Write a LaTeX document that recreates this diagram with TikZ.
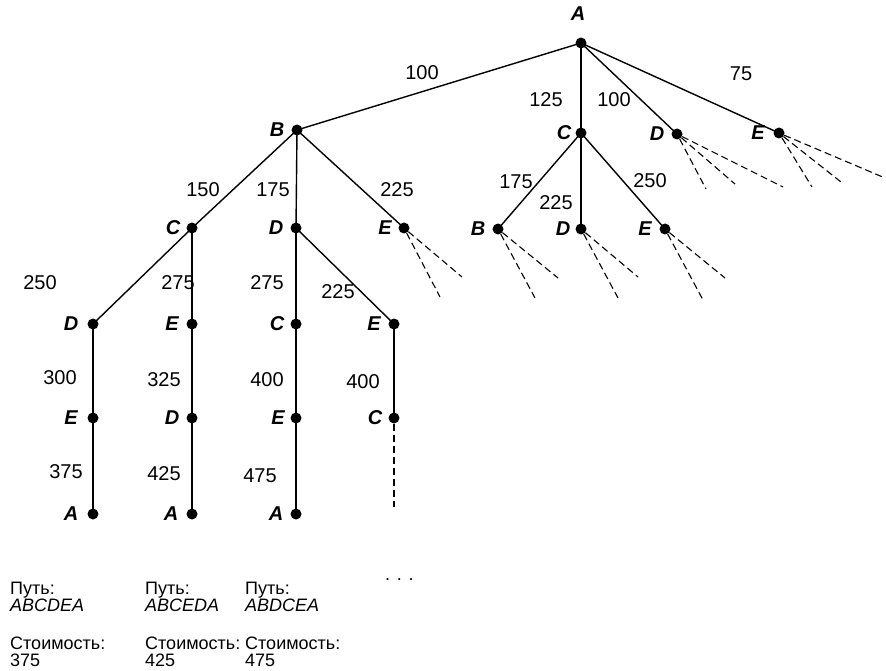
\documentclass[tikz,border=0pt]{standalone}
\usepackage{fontspec}
\setmainfont{Liberation Sans}
\begin{document}
\begin{tikzpicture}[x=1pt,y=-1pt,
  dot/.style={circle,fill=black,inner sep=0pt,minimum size=11pt},
  lab/.style={font=\fontsize{20}{22}\selectfont\bfseries\itshape,inner sep=0pt},
  num/.style={font=\fontsize{20}{22}\selectfont,inner sep=0pt},
  txt/.style={font=\fontsize{18}{16.5}\selectfont,inner sep=0pt,anchor=west,align=left},
  edge/.style={line width=1.4pt},
  vedge/.style={line width=2pt},
  dsh/.style={line width=1.1pt,dash pattern=on 7pt off 4pt}]
\useasboundingbox (0,0) rectangle (886,671);
% level 0
\node[dot] (A) at (581,43) {};
% level 1
\node[dot] (B) at (297,130) {};
\node[dot] (C) at (581,133) {};
\node[dot] (D) at (677,134) {};
\node[dot] (E) at (779,133) {};
% level 2 under B
\node[dot] (BC) at (192,228) {};
\node[dot] (BD) at (296,228) {};
\node[dot] (BE) at (404,228) {};
% level 2 under C
\node[dot] (CB) at (498,229) {};
\node[dot] (CD) at (581,229) {};
\node[dot] (CE) at (665,229) {};
% level 3
\node[dot] (BCD) at (93,324) {};
\node[dot] (BCE) at (192,324) {};
\node[dot] (BDC) at (296,324) {};
\node[dot] (BDE) at (394,324) {};
% level 4
\node[dot] (BCDE) at (93,418) {};
\node[dot] (BCED) at (192,418) {};
\node[dot] (BDCE) at (296,418) {};
\node[dot] (BDEC) at (394,418) {};
% level 5
\node[dot] (BCDEA) at (93,514) {};
\node[dot] (BCEDA) at (192,514) {};
\node[dot] (BDCEA) at (296,514) {};

% letters
\node[lab] (lA) at (578,14) {A};
\node[lab] (lB) at (277,130) {B};
\node[lab] (lC) at (564,133) {C};
\node[lab] (lD) at (657,134) {D};
\node[lab] (lE) at (758,133) {E};
\node[lab] (lBC) at (173,228) {C};
\node[lab] (lBD) at (276,228) {D};
\node[lab] (lBE) at (385,228) {E};
\node[lab] (lCB) at (478,229) {B};
\node[lab] (lCD) at (563,229) {D};
\node[lab] (lCE) at (645,229) {E};
\node[lab] (lBCD) at (71,324) {D};
\node[lab] (lBCE) at (172,324) {E};
\node[lab] (lBDC) at (277,324) {C};
\node[lab] (lBDE) at (374,324) {E};
\node[lab] (lBCDE) at (71,418) {E};
\node[lab] (lBCED) at (172,418) {D};
\node[lab] (lBDCE) at (278,418) {E};
\node[lab] (lBDEC) at (375,418) {C};
\node[lab] (lBCDEA) at (71,514) {A};
\node[lab] (lBCEDA) at (171,514) {A};
\node[lab] (lBDCEA) at (276,514) {A};

% edges
\draw[edge] (A.center) -- (B.center);
\draw[vedge] (A.center) -- (C.center);
\draw[edge] (A.center) -- (D.center);
\draw[edge] (A.center) -- (E.center);
\draw[edge] (B.center) -- (BC.center);
\draw[edge] (B.center) -- (BD.center);
\draw[edge] (B.center) -- (BE.center);
\draw[edge] (C.center) -- (CB.center);
\draw[vedge] (C.center) -- (CD.center);
\draw[edge] (C.center) -- (CE.center);
\draw[edge] (BC.center) -- (BCD.center);
\draw[vedge] (BC.center) -- (BCE.center);
\draw[edge] (BD.center) -- (BDC.center);
\draw[edge] (BD.center) -- (BDE.center);
\draw[vedge] (BCD.center) -- (BCDE.center);
\draw[vedge] (BCE.center) -- (BCED.center);
\draw[edge] (BDC.center) -- (BDCE.center);
\draw[vedge] (BDE.center) -- (BDEC.center);
\draw[vedge] (BCDE.center) -- (BCDEA.center);
\draw[vedge] (BCED.center) -- (BCEDA.center);
\draw[edge] (BDCE.center) -- (BDCEA.center);

% edge costs
\node[num] (n1) at (422,73) {100};
\node[num] (n2) at (546,100) {125};
\node[num] (n3) at (614,100) {100};
\node[num] (n4) at (741,74) {75};
\node[num] (n5) at (203,190) {150};
\node[num] (n6) at (273,190) {175};
\node[num] (n7) at (397,190) {225};
\node[num] (n8) at (516,182) {175};
\node[num] (n9) at (556,203) {225};
\node[num] (n10) at (650,181) {250};
\node[num] (n11) at (40,283) {250};
\node[num] (n12) at (178,283) {275};
\node[num] (n13) at (267,283) {275};
\node[num] (n14) at (338,292) {225};
\node[num] (n15) at (60,378) {300};
\node[num] (n16) at (164,380) {325};
\node[num] (n17) at (267,380) {400};
\node[num] (n18) at (363,382) {400};
\node[num] (n19) at (66,472) {375};
\node[num] (n20) at (164,474) {425};
\node[num] (n21) at (260,476) {475};

% unexplored branches
\coordinate (d1) at (706,189);
\coordinate (d2) at (735,184);
\coordinate (d3) at (783,187);
\coordinate (e1) at (812,187);
\coordinate (e2) at (841,182);
\coordinate (e3) at (885,178);
\coordinate (f1) at (440,297);
\coordinate (f2) at (462,277);
\coordinate (g1) at (535,298);
\coordinate (g2) at (558,278);
\coordinate (h1) at (618,298);
\coordinate (h2) at (638,277);
\coordinate (k1) at (703,300);
\coordinate (k2) at (725,278);
\coordinate (m1) at (394,507);
\draw[dsh] (D) -- (d1);
\draw[dsh] (D) -- (d2);
\draw[dsh] (D) -- (d3);
\draw[dsh] (E) -- (e1);
\draw[dsh] (E) -- (e2);
\draw[dsh] (E) -- (e3);
\draw[dsh] (BE) -- (f1);
\draw[dsh] (BE) -- (f2);
\draw[dsh] (CB) -- (g1);
\draw[dsh] (CB) -- (g2);
\draw[dsh] (CD) -- (h1);
\draw[dsh] (CD) -- (h2);
\draw[dsh] (CE) -- (k1);
\draw[dsh] (CE) -- (k2);
\draw[dsh] (BDEC) -- (m1);

% summary texts
\node[txt] (p1) at (10,597) {Путь:\\\itshape ABCDEA};
\node[txt] (p2) at (145,597) {Путь:\\\itshape ABCEDA};
\node[txt] (p3) at (245,597) {Путь:\\\itshape ABDCEA};
\node[txt] (dots) at (385,580) {. . .};
\node[txt] (s1) at (10,652) {Стоимость:\\375};
\node[txt] (s2) at (145,652) {Стоимость:\\425};
\node[txt] (s3) at (245,652) {Стоимость:\\475};
\end{tikzpicture}
\end{document}
